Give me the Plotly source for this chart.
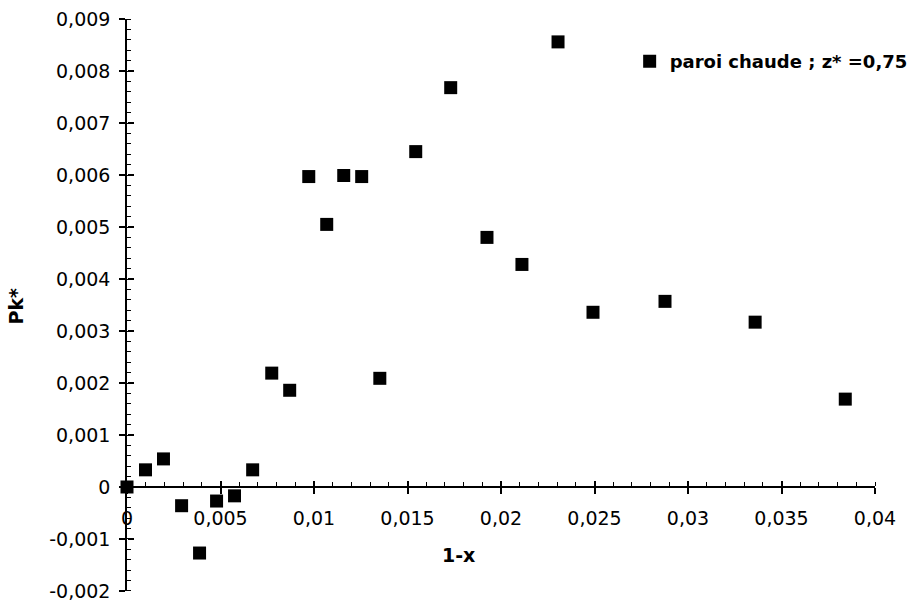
import plotly.graph_objects as go

# ---- data ----
x_vals = [0.0, 0.00099, 0.00195, 0.00292, 0.00388, 0.00479, 0.00575, 0.00672,
          0.00774, 0.00870, 0.00972, 0.01068, 0.01159, 0.01255, 0.01352,
          0.01544, 0.01731, 0.01925, 0.02112, 0.02305, 0.02492, 0.02877,
          0.03359, 0.03841]
y_vals = [0.0, 0.00033, 0.00054, -0.00036, -0.00127, -0.00027, -0.00017, 0.00033,
          0.00219, 0.00186, 0.00597, 0.00505, 0.00599, 0.00597, 0.00209,
          0.00645, 0.00768, 0.00480, 0.00428, 0.00856, 0.00336, 0.00357,
          0.00317, 0.00169]
series_name = "paroi chaude ; z* =0,75"

x_tick_vals = [0, 0.005, 0.01, 0.015, 0.02, 0.025, 0.03, 0.035, 0.04]
x_tick_text = ["0", "0,005", "0,01", "0,015", "0,02", "0,025", "0,03", "0,035", "0,04"]
y_tick_vals = [-0.002, -0.001, 0, 0.001, 0.002, 0.003, 0.004, 0.005, 0.006, 0.007, 0.008, 0.009]
y_tick_text = ["-0,002", "-0,001", "0", "0,001", "0,002", "0,003", "0,004", "0,005",
               "0,006", "0,007", "0,008", "0,009"]
x_title = "1-x"
y_title = "Pk*"

x_range = [-0.00000005, 0.04000005]
y_range = [-0.0020002, 0.0090002]

FONT = "DejaVu Sans, sans-serif"
tick_font = dict(family=FONT, size=19, color="black")
xpos = (0 - y_range[0]) / (y_range[1] - y_range[0])

M_L, M_R, M_T, M_B = 127, 34, 19, 11
PW, PH = 909 - M_L - M_R, 602 - M_T - M_B

fig = go.Figure()
fig.add_trace(go.Scatter(
    x=x_vals, y=y_vals, mode="markers", name=series_name,
    marker=dict(symbol="square", size=13, color="black"),
    cliponaxis=False,
))
# helper trace to host the overlay axes (inside half of the crossing major ticks)
fig.add_trace(go.Scatter(x=[], y=[], xaxis="x2", yaxis="y2", showlegend=False,
                         hoverinfo="skip"))

fig.update_layout(
    width=909, height=602,
    margin=dict(l=M_L, r=M_R, t=M_T, b=M_B, autoexpand=False),
    plot_bgcolor="white", paper_bgcolor="white",
    showlegend=True,
    legend=dict(x=0.672, y=0.958, xanchor="left", yanchor="top",
                font=dict(family=FONT, size=18, color="black", weight="bold"),
                itemwidth=30, bgcolor="rgba(0,0,0,0)", borderwidth=0),
    xaxis=dict(
        range=x_range, anchor="free", position=xpos,
        showline=True, linecolor="black", linewidth=1.5,
        showgrid=False, zeroline=False,
        tickmode="array", tickvals=x_tick_vals, ticktext=x_tick_text,
        ticks="outside", ticklen=6, tickwidth=1.5, tickcolor="black",
        tickfont=tick_font, ticklabelstandoff=8, ticklabeloverflow="allow",
        minor=dict(dtick=0.001, ticks="inside", ticklen=4, tickwidth=1, tickcolor="black",
                   showgrid=False),
    ),
    xaxis2=dict(
        range=x_range, overlaying="x", anchor="free", position=xpos,
        showline=False, showgrid=False, zeroline=False,
        tickmode="array", tickvals=x_tick_vals, showticklabels=False,
        ticks="inside", ticklen=6, tickwidth=1.5, tickcolor="black",
    ),
    yaxis=dict(
        range=y_range, anchor="x",
        showline=True, linecolor="black", linewidth=1.5,
        showgrid=False, zeroline=False,
        tickmode="array", tickvals=y_tick_vals, ticktext=y_tick_text,
        ticks="outside", ticklen=6, tickwidth=1.5, tickcolor="black",
        tickfont=tick_font, ticklabelstandoff=5, ticklabeloverflow="allow",
        minor=dict(dtick=0.0002, ticks="inside", ticklen=4, tickwidth=1, tickcolor="black",
                   showgrid=False),
    ),
    yaxis2=dict(
        range=y_range, overlaying="y", anchor="free", position=0, side="left",
        showline=False, showgrid=False, zeroline=False,
        tickmode="array", tickvals=y_tick_vals, showticklabels=False,
        ticks="inside", ticklen=6, tickwidth=1.5, tickcolor="black",
    ),
    annotations=[
        dict(text=x_title, x=(458 - M_L) / PW, y=(602 - M_B - 555) / PH,
             xref="paper", yref="paper",
             showarrow=False, xanchor="center", yanchor="middle",
             font=dict(family=FONT, size=19, color="black", weight="bold")),
        dict(text=y_title, x=(15.5 - M_L) / PW, y=(602 - M_B - 306) / PH,
             xref="paper", yref="paper",
             showarrow=False, xanchor="center", yanchor="middle", textangle=-90,
             font=dict(family=FONT, size=19, color="black", weight="bold")),
    ],
)

fig.write_html("out.html")
